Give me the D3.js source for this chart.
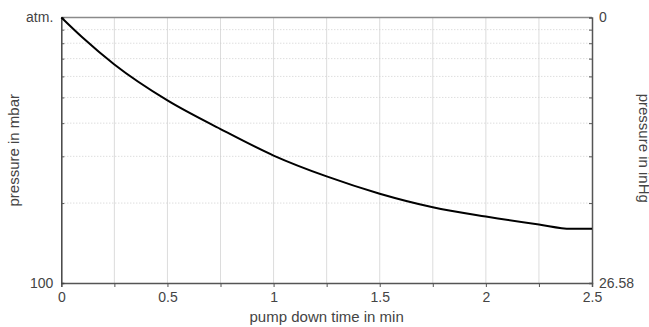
<!DOCTYPE html>
<html>
<head>
<meta charset="utf-8">
<script src="https://cdn.jsdelivr.net/npm/d3@7"></script>
<style>
  body { margin: 0; background: #fff; }
  text { font-family: "Liberation Sans", Arial, sans-serif; fill: #444; }
</style>
</head>
<body>
<svg id="chart" width="649" height="327"></svg>
<script>
// pump down curve
const timeMin = [0, 0.1, 0.25, 0.5, 0.75, 1.0, 1.25, 1.5, 1.75, 2.0, 2.25, 2.4, 2.5];
const pressureMbar = [1000, 840, 665, 487, 380, 302, 252, 217, 193, 178, 166, 160, 160];

const xTicks = [0, 0.25, 0.5, 0.75, 1, 1.25, 1.5, 1.75, 2, 2.25, 2.5];
const xLabels = ['0', '', '0.5', '', '1', '', '1.5', '', '2', '', '2.5'];
const yGrid = [200, 300, 400, 500, 600, 700, 800, 900];
const yLeftLabels = [{v: 1000, t: 'atm.'}, {v: 100, t: '100'}];
const yRightLabels = [{v: 1000, t: '0'}, {v: 100, t: '26.58'}];

const svg = d3.select('#chart');
const margin = {top: 17.5, right: 57, bottom: 44, left: 61.3};
const W = 649, H = 327;
const width = W - margin.left - margin.right;
const height = H - margin.top - margin.bottom;

const x = d3.scaleLinear().domain([0, 2.5]).range([0, width]);
const y = d3.scaleLog().domain([100, 1000]).range([height, 0]);

const g = svg.append('g').attr('transform', `translate(${margin.left},${margin.top})`);

// vertical grid
g.append('g').selectAll('line')
  .data(xTicks.slice(1, -1))
  .join('line')
  .attr('x1', d => x(d)).attr('x2', d => x(d))
  .attr('y1', 0).attr('y2', height)
  .attr('stroke', '#dcdcdc').attr('stroke-width', 1);

// horizontal dotted grid
g.append('g').selectAll('line')
  .data(yGrid)
  .join('line')
  .attr('x1', 0).attr('x2', width)
  .attr('y1', d => y(d)).attr('y2', d => y(d))
  .attr('stroke', '#cfcfcf').attr('stroke-width', 1)
  .attr('stroke-dasharray', '1,2');

// top border
g.append('line')
  .attr('x1', 0).attr('x2', width).attr('y1', 0).attr('y2', 0)
  .attr('stroke', '#8a8a8a').attr('stroke-width', 1.5);

// bottom axis
const xAxis = d3.axisBottom(x).tickValues(xTicks)
  .tickFormat((d, i) => xLabels[i]).tickSize(4).tickPadding(5);
const gx = g.append('g').attr('transform', `translate(0,${height})`).call(xAxis);
gx.select('.domain').attr('stroke', '#555').attr('stroke-width', 1.5);
gx.selectAll('.tick line').attr('stroke', '#555');
gx.selectAll('text').attr('font-size', 14).attr('fill', '#444')
  .attr('font-family', '"Liberation Sans", Arial, sans-serif');

// left axis (ticks inward)
const yLeft = d3.axisRight(y).tickValues(yGrid).tickFormat('').tickSize(3);
const gyl = g.append('g').call(yLeft);
gyl.select('.domain').attr('stroke', '#444').attr('stroke-width', 1.5);
gyl.selectAll('.tick line').attr('stroke', '#555');
g.selectAll('.lbl-left')
  .data(yLeftLabels)
  .join('text')
  .attr('class', 'lbl-left')
  .attr('x', -8).attr('y', d => y(d.v))
  .attr('dy', '0.35em').attr('text-anchor', 'end')
  .attr('font-size', 14)
  .text(d => d.t);

// right axis (ticks inward)
const yRight = d3.axisLeft(y).tickValues(yGrid).tickFormat('').tickSize(3);
const gyr = g.append('g').attr('transform', `translate(${width},0)`).call(yRight);
gyr.select('.domain').attr('stroke', '#555').attr('stroke-width', 1.5);
gyr.selectAll('.tick line').attr('stroke', '#555');
g.selectAll('.lbl-right')
  .data(yRightLabels)
  .join('text')
  .attr('class', 'lbl-right')
  .attr('x', width + 7).attr('y', d => y(d.v))
  .attr('dy', '0.35em').attr('text-anchor', 'start')
  .attr('font-size', 14)
  .text(d => d.t);

// curve
const data = timeMin.map((t, i) => ({t: t, p: pressureMbar[i]}));
g.append('path')
  .datum(data)
  .attr('fill', 'none')
  .attr('stroke', '#000')
  .attr('stroke-width', 2)
  .attr('d', d3.line().x(d => x(d.t)).y(d => y(d.p)).curve(d3.curveMonotoneX));

// axis titles
svg.append('text')
  .attr('x', margin.left + width / 2).attr('y', H - 5)
  .attr('text-anchor', 'middle').attr('font-size', 15)
  .text('pump down time in min');
svg.append('text')
  .attr('transform', `translate(19,${margin.top + height / 2}) rotate(-90)`)
  .attr('text-anchor', 'middle').attr('font-size', 15)
  .text('pressure in mbar');
svg.append('text')
  .attr('transform', `translate(639,${margin.top + height / 2 - 2}) rotate(90)`)
  .attr('text-anchor', 'middle').attr('font-size', 15)
  .text('pressure in inHg');
</script>
</body>
</html>
